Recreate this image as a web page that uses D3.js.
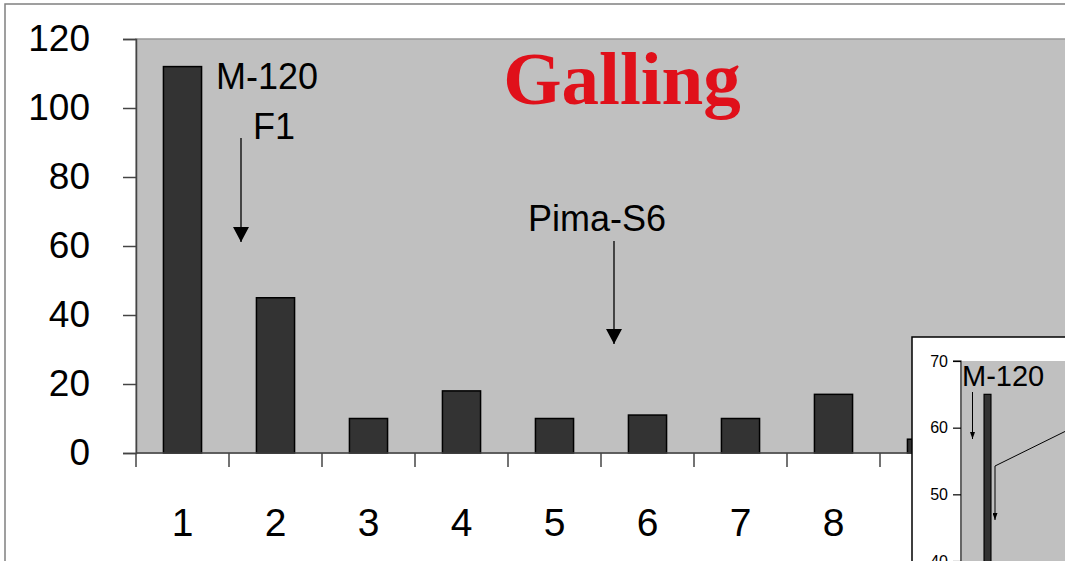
<!DOCTYPE html>
<html>
<head>
<meta charset="utf-8">
<script src="https://cdn.jsdelivr.net/npm/d3@7"></script>
<style>
html,body{margin:0;padding:0;background:#fff;overflow:hidden;}
svg{display:block;}
</style>
</head>
<body>
<svg id="chart" width="1065" height="561"></svg>
<script>
// ---- data ----
const categories = ["1","2","3","4","5","6","7","8","9"];
const values = [112, 45, 10, 18, 10, 11, 10, 17, 4];
const yTicks = [0, 20, 40, 60, 80, 100, 120];
const titleText = "Galling";
const insetCategories = ["1"];
const insetValues = [65];
const insetTicks = [40, 50, 60, 70];

const svg = d3.select("#chart");
const W = 1065, H = 561;
const font = "'Liberation Sans', Arial, sans-serif";

// arrow markers (pointing along +x, oriented along the line)
const defs = svg.append("defs");
defs.append("marker").attr("id","ah").attr("viewBox","0 0 15 16")
  .attr("refX",15).attr("refY",8).attr("markerWidth",15).attr("markerHeight",16)
  .attr("markerUnits","userSpaceOnUse").attr("orient","auto")
  .append("path").attr("d","M0,0 L15,8 L0,16 Z").attr("fill","#000");
defs.append("marker").attr("id","ahs").attr("viewBox","0 0 7 5")
  .attr("refX",7).attr("refY",2.5).attr("markerWidth",7).attr("markerHeight",5)
  .attr("markerUnits","userSpaceOnUse").attr("orient","auto")
  .append("path").attr("d","M0,0 L7,2.5 L0,5 Z").attr("fill","#000");

// outer frame
svg.append("rect").attr("x",5).attr("y",4).attr("width",W+20).attr("height",H+20)
  .attr("fill","#fff").attr("stroke","#808080").attr("stroke-width",1.5);

// main scales
const x = d3.scaleBand().domain(categories).range([136, 136 + 93*categories.length])
  .paddingInner(0.59).paddingOuter(0.295);
const y = d3.scaleLinear().domain([0,120]).range([453, 39]);

// plot area
svg.append("rect").attr("x",136).attr("y",y(120)).attr("width",W).attr("height",y(0)-y(120))
  .attr("fill","#c0c0c0").attr("stroke","#999").attr("stroke-width",1.5);

// bars
svg.append("g").selectAll("rect").data(values).join("rect")
  .attr("x",(d,i)=>x(categories[i]))
  .attr("y",d=>y(d))
  .attr("width",x.bandwidth())
  .attr("height",d=>y(0)-y(d))
  .attr("fill","#333333").attr("stroke","#000").attr("stroke-width",1.5);

// y axis
const yAxis = svg.append("g").attr("transform","translate(136,0)")
  .call(d3.axisLeft(y).tickValues(yTicks).tickSize(13).tickPadding(33).tickFormat(d3.format("d")));
yAxis.select(".domain").attr("stroke","#444").attr("stroke-width",1.5);
yAxis.selectAll(".tick line").attr("stroke","#444").attr("stroke-width",1.5);
yAxis.selectAll(".tick text").attr("font-family",font).attr("font-size",37).attr("fill","#000");

// x axis
const xAxisG = svg.append("g").attr("transform",`translate(0,${y(0)})`);
xAxisG.append("line").attr("x1",136).attr("x2",W+10).attr("y1",0).attr("y2",0)
  .attr("stroke","#444").attr("stroke-width",1.5);
const boundaries = categories.map(c => x(c) - x.step()*x.paddingOuter());
xAxisG.selectAll("line.tk").data(boundaries).join("line").attr("class","tk")
  .attr("x1",d=>d).attr("x2",d=>d).attr("y1",0).attr("y2",14)
  .attr("stroke","#444").attr("stroke-width",1.5);
xAxisG.selectAll("text").data(categories).join("text")
  .attr("x",d=>x(d)+x.bandwidth()/2).attr("y",83)
  .attr("text-anchor","middle").attr("font-family",font).attr("font-size",39)
  .text(d=>d);

// title
svg.append("text").attr("x",622).attr("y",104).attr("text-anchor","middle")
  .attr("font-family","'Liberation Serif','Times New Roman',serif").attr("font-weight","bold")
  .attr("font-size",75).attr("fill","#e0101a").text(titleText);

// annotations
svg.append("text").attr("x",216).attr("y",89).attr("font-family",font).attr("font-size",36).text("M-120");
svg.append("text").attr("x",253).attr("y",139).attr("font-family",font).attr("font-size",36).text("F1");
svg.append("line").attr("x1",241).attr("x2",241).attr("y1",138).attr("y2",242)
  .attr("stroke","#000").attr("stroke-width",1.3).attr("marker-end","url(#ah)");
svg.append("text").attr("x",528).attr("y",231).attr("font-family",font).attr("font-size",36).text("Pima-S6");
svg.append("line").attr("x1",614).attr("x2",614).attr("y1",241).attr("y2",344)
  .attr("stroke","#000").attr("stroke-width",1.3).attr("marker-end","url(#ah)");

// ---- inset ----
const inset = svg.append("g");
inset.append("rect").attr("x",912).attr("y",337).attr("width",300).attr("height",300)
  .attr("fill","#fff").attr("stroke","#000").attr("stroke-width",1.5);
const iy = d3.scaleLinear().domain([40,70]).range([561, 361]);
const ix = d3.scaleBand().domain(insetCategories).range([961, 1014]).paddingInner(0.87).paddingOuter(0.435);
inset.append("rect").attr("x",962).attr("y",iy(70)).attr("width",200).attr("height",300)
  .attr("fill","#c0c0c0");
inset.append("g").selectAll("rect").data(insetValues).join("rect")
  .attr("x",(d,i)=>ix(insetCategories[i])).attr("y",d=>iy(d))
  .attr("width",ix.bandwidth()).attr("height",d=>iy(30)-iy(d)+200)
  .attr("fill","#333").attr("stroke","#000").attr("stroke-width",1.2);
const iAxis = inset.append("g").attr("transform","translate(961,0)")
  .call(d3.axisLeft(iy).tickValues(insetTicks).tickSize(8).tickPadding(5).tickFormat(d3.format("d")));
iAxis.select(".domain").attr("stroke","#000").attr("stroke-width",1.2).attr("d","M-8,361H0V700");
iAxis.selectAll(".tick line").attr("stroke","#000").attr("stroke-width",1.2);
iAxis.selectAll(".tick text").attr("font-family",font).attr("font-size",16).attr("fill","#000");
inset.append("text").attr("x",962).attr("y",386).attr("font-family",font).attr("font-size",29).text("M-120");
inset.append("line").attr("x1",972.5).attr("x2",972.5).attr("y1",392).attr("y2",439)
  .attr("stroke","#000").attr("stroke-width",1).attr("marker-end","url(#ahs)");
inset.append("polyline").attr("points","1070,429 995,466 995,520")
  .attr("fill","none").attr("stroke","#000").attr("stroke-width",1).attr("marker-end","url(#ahs)");
</script>
</body>
</html>
